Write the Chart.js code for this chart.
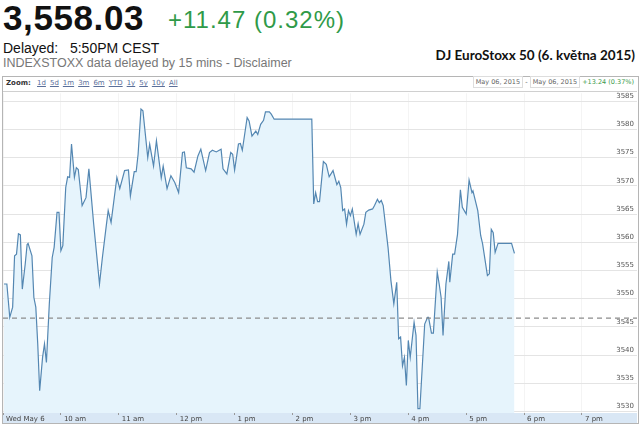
<!DOCTYPE html>
<html>
<head>
<meta charset="utf-8">
<script src="https://cdn.jsdelivr.net/npm/chart.js@4/dist/chart.umd.min.js"></script>
<style>
body{margin:0;width:640px;height:425px;overflow:hidden;background:#fff;font-family:"Liberation Sans",Arial,sans-serif;position:relative}
.abs{position:absolute;white-space:nowrap}
#price{left:3px;top:1px;font-size:35px;font-weight:bold;line-height:34px;color:#111;letter-spacing:0.6px}
#chg{left:168px;top:8px;font-size:24px;line-height:24px;color:#2f9a48;letter-spacing:1px}
#delay{left:3px;top:41px;font-size:14px;line-height:14px;color:#111}
#note{left:3px;top:57px;font-size:12.5px;line-height:13px;color:#777}
#title{right:5px;top:48px;font-family:Lato,"Open Sans",sans-serif;font-weight:bold;font-size:13.5px;line-height:14px;color:#111}
#frame{left:2px;top:76px;width:635px;height:346px;border:1px solid #b5b5b5}
#zoombar{left:3px;top:77px;width:634px;height:14px;border-bottom:1px solid #d0d0d0;font-family:"DejaVu Sans",Verdana,sans-serif;font-size:6.5px;color:#555}
#zoombar .l{position:absolute;left:3px;top:2px;font-size:7px}
#zoombar .l a{color:#5a6f9a;text-decoration:underline;margin-left:4px}
#zoombar .r{position:absolute;right:3px;top:1px}
#zoombar .r span.box{border:1px solid #ddd;padding:1px 2px;color:#666}
#zoombar .r span.g{color:#3c9a4c}
#wrap{left:3px;top:92px;width:634px;height:331px}
</style>
</head>
<body>
<div class="abs" id="price">3,558.03</div>
<div class="abs" id="chg">+11.47 (0.32%)</div>
<div class="abs" id="delay">Delayed:&nbsp;&nbsp; 5:50PM CEST</div>
<div class="abs" id="note">INDEXSTOXX data delayed by 15 mins - Disclaimer</div>
<div class="abs" id="title">DJ EuroStoxx 50 (6. května 2015)</div>
<div class="abs" id="frame"></div>
<div class="abs" id="zoombar">
  <div class="l"><b style="color:#333">Zoom:</b> <a>1d</a><a>5d</a><a>1m</a><a>3m</a><a>6m</a><a>YTD</a><a>1y</a><a>5y</a><a>10y</a><a>All</a></div>
  <div class="r"><span class="box">May 06, 2015</span> - <span class="box">May 06, 2015</span> <span class="g">+13.24 (0.37%)</span></div>
</div>
<div class="abs" id="wrap"><canvas id="grafik" width="634" height="331"></canvas></div>
<script>
// minutes since midnight, May 6 2015
var zaman = [541,544,547,550,552,554,556,558,560,563,565,566,570,572,574,576,578,581,583,585,
  588,591,593,596,598,600,602,605,607,609,611,614,616,618,622,626,629,634,640,643,
  647,649,652,658,661,666,670,672,676,678,680,683,685,690,692,696,699,704,706,710,
  714,718,722,726,728,730,735,738,742,745,750,754,757,761,766,768,772,776,778,780,
  784,786,788,793,795,798,802,804,807,810,812,816,818,821,860,862,864,866,868,872,
  875,878,882,886,888,890,892,894,896,898,900,902,906,908,910,914,916,919,923,925,
  928,930,932,934,939,942,945,948,950,952,954,956,958,960,962,966,968,970,972,977,
  980,981,984,986,990,992,994,996,999,1002,1003,1006,1008,1011,1014,1016,1020,1023,1026,1027,
  1032,1035,1037,1042,1044,1046,1048,1050,1053,1067,1070];
var deger = [3552.6,3552.6,3546.7,3548.5,3557.6,3557.9,3561.5,3561.3,3551.7,3556.1,3559.6,3559.8,3557.6,3550.2,3548.5,3542.0,3533.7,3539.6,3542.0,3538.7,
  3549.1,3557.3,3559.1,3565.3,3565.3,3558.5,3559.4,3569.7,3571.6,3571.5,3577.4,3571.5,3573.2,3572.9,3566.5,3567.9,3573.0,3563.2,3552.6,3557.3,
  3562.9,3565.6,3563.5,3571.5,3569.5,3572.7,3572.8,3568.2,3572.5,3572.5,3575.6,3583.6,3583.3,3575.0,3577.4,3573.5,3578.0,3571.4,3573.5,3569.5,
  3571.8,3570.6,3568.8,3575.9,3576.0,3573.2,3573.0,3572.4,3575.3,3576.5,3572.7,3575.9,3576.3,3576.0,3576.5,3573.0,3572.1,3575.9,3575.6,3572.8,
  3577.4,3577.5,3576.3,3582.1,3581.5,3578.8,3579.7,3579.1,3580.9,3581.6,3583.1,3583.1,3582.7,3581.8,3581.8,3566.8,3568.8,3567.2,3567.2,3574.3,
  3573.8,3571.6,3572.7,3570.2,3570.8,3569.7,3565.6,3565.9,3563.2,3565.6,3564.7,3565.9,3561.4,3563.3,3561.4,3563.2,3565.3,3565.7,3565.9,3566.5,
  3567.6,3567.0,3567.4,3566.5,3559.1,3553.2,3549.1,3552.9,3542.9,3543.2,3538.1,3539.6,3534.6,3542.6,3539.6,3545.8,3543.5,3530.5,3530.5,3545.5,
  3546.7,3546.7,3543.9,3543.9,3554.7,3552.6,3550.2,3543.5,3552.6,3556.6,3552.9,3557.9,3557.9,3561.4,3569.3,3566.2,3565.0,3571.0,3568.8,3569.1,
  3565.6,3561.2,3559.7,3554.1,3554.4,3562.3,3561.7,3558.2,3559.8,3559.8,3558.03];

var oncekiKapanis = 3546.56;

var xTickler = [540,600,660,720,780,840,900,960,1020,1080,1140];
var xEtiketler = ["Wed May 6","10 am","11 am","12 pm","1 pm","2 pm","3 pm","4 pm","5 pm","6 pm","7 pm"];
var yTickler = [3530,3535,3540,3545,3550,3555,3560,3565,3570,3575,3580,3585];

var noktalar = [];
for (var i = 0; i < zaman.length; i++) {
  noktalar.push({x: zaman[i], y: deger[i]});
}

// eksen bandi (alt mavi serit)
var bandPlugin = {
  id: 'band',
  beforeDraw: function(chart) {
    var c = chart.ctx, a = chart.chartArea;
    c.save();
    c.fillStyle = '#d9e7f5';
    c.fillRect(0, a.bottom, chart.width, chart.height - a.bottom);
    c.restore();
  }
};

new Chart(document.getElementById("grafik"), {
  type: 'line',
  data: {
    datasets: [{
      // onceki kapanis, kesikli cizgi (ustte cizilsin diye ilk sirada)
      data: [{x: 540, y: oncekiKapanis}, {x: 1200, y: oncekiKapanis}],
      borderColor: '#8c8c8c',
      borderDash: [5, 4],
      borderWidth: 1.2,
      pointRadius: 0,
      fill: false
    }, {
      data: noktalar,
      borderColor: '#5487b2',
      backgroundColor: '#e6f4fc',
      borderWidth: 1.2,
      pointRadius: 0,
      tension: 0,
      fill: 'start'
    }]
  },
  plugins: [bandPlugin],
  options: {
    responsive: false,
    animation: false,
    layout: {padding: 0},
    plugins: {legend: {display: false}, tooltip: {enabled: false}},
    scales: {
      x: {
        type: 'linear',
        min: 540,
        max: 1197,
        afterBuildTicks: function(s) { s.ticks = xTickler.map(function(v){ return {value: v}; }); },
        afterFit: function(s) { s.height = 10; },
        border: {display: false},
        grid: {color: 'rgba(0,0,0,0.045)', tickLength: 2, tickColor: '#999'},
        ticks: {
          autoSkip: false, maxRotation: 0, align: 'start', labelOffset: 3, padding: 0,
          color: '#444', font: {family: 'DejaVu Sans', size: 7},
          callback: function(v, idx) { return xEtiketler[idx]; }
        }
      },
      y: {
        type: 'linear',
        position: 'right',
        min: 3529.74,
        max: 3586.41,
        afterBuildTicks: function(s) { s.ticks = yTickler.map(function(v){ return {value: v}; }); },
        afterFit: function(s) { s.width = 0; },
        border: {display: false},
        grid: {color: '#e4e4e4', drawTicks: false},
        ticks: {
          mirror: true, padding: -3, labelOffset: -5,
          color: '#555', font: {family: 'DejaVu Sans', size: 7},
          callback: function(v) { return String(v); }
        }
      }
    }
  }
});
</script>
</body>
</html>
